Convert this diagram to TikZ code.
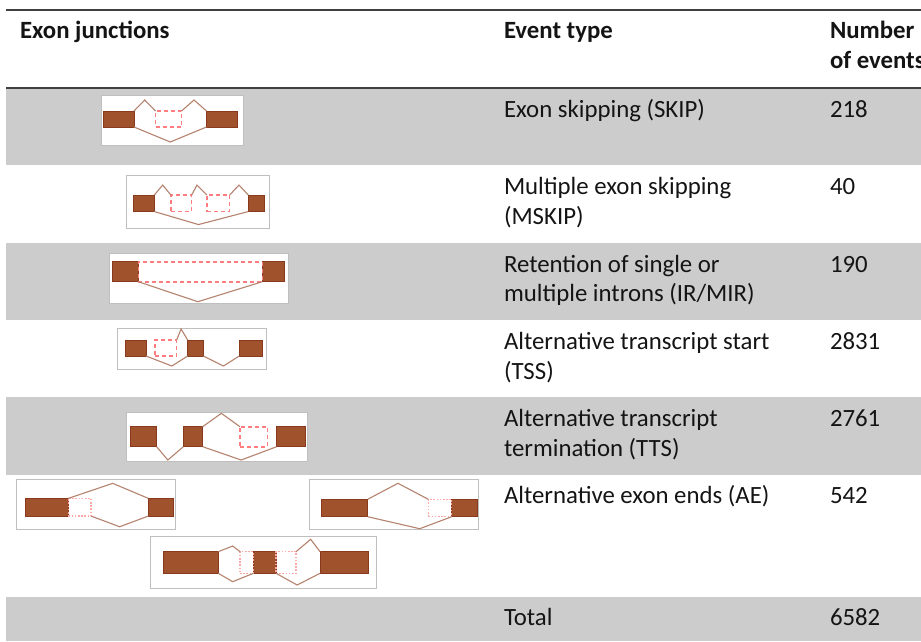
\documentclass[tikz,border=0pt]{standalone}
\usepackage{fontspec}
\setmainfont{Carlito}
\usetikzlibrary{calc}

\definecolor{rowgray}{HTML}{CCCCCC}
\definecolor{rulegray}{HTML}{404040}
\definecolor{exonfill}{HTML}{A0522D}
\definecolor{exonline}{HTML}{8A3A1C}
\definecolor{intronline}{HTML}{B5836E}
\definecolor{retained}{HTML}{FF7C80}
\definecolor{altend}{HTML}{FFA8A8}
\definecolor{panelline}{HTML}{BFBFBF}

\begin{document}
\begin{tikzpicture}[
    x=1pt, y=-1pt,
    every node/.style={font=\fontsize{24.8}{29.5}\selectfont, inner sep=0pt, outer sep=0pt},
    cell/.style={anchor=base west, text=black!92},
    head/.style={cell, font=\fontsize{24.8}{29.5}\selectfont\bfseries},
    rule/.style={draw=rulegray, line width=2pt},
    panel/.style={fill=white, draw=panelline, line width=0.8pt},
    exon/.style={rectangle, fill=exonfill, draw=exonline, line width=0.8pt},
    intron/.style={draw=intronline, line width=1.1pt},
    retbox/.style={rectangle, draw=retained, line width=1.6pt, dash pattern=on 4pt off 3pt},
    endbox/.style={rectangle, draw=altend, line width=1.2pt, dash pattern=on 1.6pt off 1.6pt}
]
\useasboundingbox (0,0) rectangle (921,641);
\clip (0,0) rectangle (921,641);

% --- table rows ---
\fill[rowgray] (6,88) rectangle (921,165);
\fill[rowgray] (6,243) rectangle (921,320);
\fill[rowgray] (6,397) rectangle (921,475);
\fill[rowgray] (6,597) rectangle (921,641);
\draw[rule] (6,10) -- (921,10);
\draw[rule] (6,88) -- (921,88);

% --- header ---
\node[head] (hjunc) at (20,38.5) {Exon junctions};
\node[head] (htype) at (504,38.5) {Event type};
\node[head] (hnum)  at (830,38.5) {Number};
\node[head] (hnum2) at (830,68.5) {of events};

% --- event types and counts ---
\node[cell] (tskip)  at (504,117) {Exon skipping (SKIP)};
\node[cell] (nskip)  at (830,117) {218};
\node[cell] (tms)    at (504,194) {Multiple exon skipping};
\node[cell] (tms2)   at (504,224) {(MSKIP)};
\node[cell] (nms)    at (830,194) {40};
\node[cell] (tir)    at (504,272) {Retention of single or};
\node[cell] (tir2)   at (504,301) {multiple introns (IR/MIR)};
\node[cell] (nir)    at (830,272) {190};
\node[cell] (ttss)   at (504,349) {Alternative transcript start};
\node[cell] (ttss2)  at (504,379) {(TSS)};
\node[cell] (ntss)   at (830,349) {2831};
\node[cell] (ttts)   at (504,426) {Alternative transcript};
\node[cell] (ttts2)  at (504,456) {termination (TTS)};
\node[cell] (ntts)   at (830,426) {2761};
\node[cell] (tae)    at (504,503) {Alternative exon ends (AE)};
\node[cell] (nae)    at (830,503) {542};
\node[cell] (ttot)   at (504,625) {Total};
\node[cell] (ntot)   at (830,625) {6582};

% --- SKIP ---
\draw[panel] (101,95) rectangle (243,145);
\node[exon, minimum width=31pt, minimum height=16pt] (skL) at (118.5,119) {};
\node[exon, minimum width=31pt, minimum height=16pt] (skR) at (222,119) {};
\node[retbox, minimum width=26pt, minimum height=16pt] (skM) at (168.5,119) {};
\draw[intron] (skL.north east) -- ($(skL.north east)!.5!(skM.north west)+(0,-11)$) -- (skM.north west);
\draw[intron] (skM.north east) -- ($(skM.north east)!.5!(skR.north west)+(0,-11)$) -- (skR.north west);
\draw[intron] (skL.south east) -- ($(skL.south east)!.5!(skR.south west)+(0,15)$) -- (skR.south west);

% --- MSKIP ---
\draw[panel] (126,175) rectangle (269,228);
\node[exon, minimum width=21pt, minimum height=16.5pt] (msL) at (143.8,203.3) {};
\node[exon, minimum width=16pt, minimum height=16.5pt] (msR) at (256.3,203.3) {};
\node[retbox, minimum width=20.7pt, minimum height=16.5pt] (msM1) at (181.3,203.3) {};
\node[retbox, minimum width=22.7pt, minimum height=16.5pt] (msM2) at (218.3,203.3) {};
\draw[intron] (msL.north east) -- ($(msL.north east)!.5!(msM1.north west)+(0,-10)$) -- (msM1.north west);
\draw[intron] (msM1.north east) -- ($(msM1.north east)!.35!(msM2.north west)+(0,-10)$) -- (msM2.north west);
\draw[intron] (msM2.north east) -- ($(msM2.north east)!.5!(msR.north west)+(0,-10)$) -- (msR.north west);
\draw[intron] (msL.south east) -- ($(msL.south east)!.47!(msR.south west)+(0,13)$) -- (msR.south west);

% --- IR/MIR ---
\draw[panel] (109.3,253.3) rectangle (288.3,303.3);
\node[exon, minimum width=25.6pt, minimum height=20pt] (irL) at (125.5,271.7) {};
\node[exon, minimum width=21.7pt, minimum height=20pt] (irR) at (273.2,271.7) {};
\node[retbox, minimum width=124pt, minimum height=20pt] (irM) at (200.3,271.7) {};
\draw[intron] (irL.south east) -- ($(irL.south east)!.48!(irR.south west)+(0,20)$) -- (irR.south west);

% --- TSS ---
\draw[panel] (117.3,328.5) rectangle (266.7,369);
\node[exon, minimum width=21pt, minimum height=16pt] (tsL) at (135.5,348) {};
\node[exon, minimum width=15.6pt, minimum height=16pt] (tsE) at (195.5,348) {};
\node[exon, minimum width=23.4pt, minimum height=16pt] (tsR) at (251,348) {};
\node[retbox, minimum width=21.7pt, minimum height=16pt] (tsM) at (165.8,348) {};
\draw[intron] (tsM.north east) -- ($(tsM.north east)!.4!(tsE.north west)+(0,-11)$) -- (tsE.north west);
\draw[intron] (tsL.south east) -- ($(tsL.south east)!.62!(tsE.south west)+(0,10)$) -- (tsE.south west);
\draw[intron] (tsE.south east) -- ($(tsE.south east)!.56!(tsR.south west)+(0,10)$) -- (tsR.south west);

% --- TTS ---
\draw[panel] (126,412.3) rectangle (307.7,461.7);
\node[exon, minimum width=26.7pt, minimum height=20pt] (ttL) at (143.3,436.7) {};
\node[exon, minimum width=19.4pt, minimum height=20pt] (ttE) at (193,436.7) {};
\node[exon, minimum width=28.3pt, minimum height=20pt] (ttR) at (290.8,436.7) {};
\node[retbox, minimum width=27.7pt, minimum height=20pt] (ttM) at (253.8,436.7) {};
\draw[intron] (ttL.south east) -- ($(ttL.south east)!.42!(ttE.south west)+(0,13.3)$) -- (ttE.south west);
\draw[intron] (ttE.north east) -- ($(ttE.north east)!.5!(ttM.north west)+(0,-13.4)$) -- (ttM.north west);
\draw[intron] (ttE.south east) -- ($(ttE.south east)!.52!(ttR.south west)+(0,13.3)$) -- (ttR.south west);

% --- AE ---
\draw[panel] (16.7,479.3) rectangle (175.7,529.3);
\node[exon, minimum width=43.3pt, minimum height=17.7pt] (aaL) at (46.7,507.2) {};
\node[exon, minimum width=25pt, minimum height=17.7pt] (aaR) at (160.8,507.2) {};
\node[endbox, minimum width=22.7pt, minimum height=17.7pt] (aaM) at (79.7,507.2) {};
\draw[intron] (aaL.north east) -- ($(aaL.north east)!.555!(aaR.north west)+(0,-15)$) -- (aaR.north west);
\draw[intron] (aaM.south east) -- ($(aaM.south east)!.5!(aaR.south west)+(0,10.7)$) -- (aaR.south west);

\draw[panel] (309.3,479.3) rectangle (478.3,529.3);
\node[exon, minimum width=46.7pt, minimum height=17.4pt] (abL) at (344.3,508) {};
\node[exon, minimum width=25.6pt, minimum height=17.4pt] (abR) at (464.5,508) {};
\node[endbox, minimum width=23.4pt, minimum height=17.4pt] (abM) at (440,508) {};
\draw[intron] (abL.north east) -- ($(abL.north east)!.5!(abM.north west)+(0,-16)$) -- (abM.north west);
\draw[intron] (abL.south east) -- ($(abL.south east)!.62!(abR.south west)+(0,12)$) -- (abR.south west);

\draw[panel] (150,536.7) rectangle (376.7,588.3);
\node[exon, minimum width=55pt, minimum height=21.6pt] (acL) at (190.8,562.5) {};
\node[exon, minimum width=22.7pt, minimum height=21.6pt] (acE) at (264.7,562.5) {};
\node[exon, minimum width=48.3pt, minimum height=21.6pt] (acR) at (344.2,562.5) {};
\node[endbox, minimum width=13.3pt, minimum height=21.6pt] (acM1) at (246.7,562.5) {};
\node[endbox, minimum width=20pt, minimum height=21.6pt] (acM2) at (286,562.5) {};
\draw[intron] (acL.north east) -- ($(acL.north east)!.66!(acM1.north west)+(0,-5.7)$) -- (acM1.north west);
\draw[intron] (acM2.north east) -- ($(acM2.north east)!.61!(acR.north west)+(0,-12.4)$) -- (acR.north west);
\draw[intron] (acL.south east) -- ($(acL.south east)!.41!(acE.south west)+(0,8.4)$) -- (acE.south west);
\draw[intron] (acE.south east) -- ($(acE.south east)!.48!(acR.south west)+(0,11.7)$) -- (acR.south west);
\end{tikzpicture}
\end{document}
